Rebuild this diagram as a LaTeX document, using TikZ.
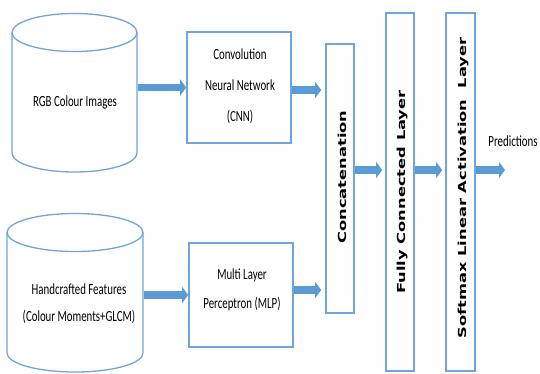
\documentclass[tikz,border=0pt]{standalone}
\usepackage{fontspec}
\setmainfont{Carlito}
\newfontfamily\vfont{DejaVu Sans}
\usetikzlibrary{arrows.meta}
\definecolor{ublue}{HTML}{5B9BD5}
\definecolor{lblue}{HTML}{6FA5DB}
\newcommand\sqz[2][31]{\scalebox{0.7}[1]{\fontsize{15.5}{#1}\selectfont\begin{tabular}{@{}c@{}}#2\end{tabular}}}
\newcommand\vsqz[1]{\scalebox{1}[0.68]{\vfont\bfseries\fontsize{16.3}{18}\selectfont #1}}
\newcommand\mycyl[5]{%
  \draw[cylline] (#1-#4,-#2) -- (#1-#4,-#3) arc[start angle=180,end angle=360,x radius=#4,y radius=#5] -- (#1+#4,-#2);
  \draw[cylline] (#1,-#2) ellipse[x radius=#4,y radius=#5];}
\tikzset{
  box/.style={draw=lblue, line width=1.6pt, inner sep=0pt, fill=white},
  cylline/.style={draw=lblue, line width=1.3pt},
  lbl/.style={inner sep=0pt, text=black},
  vlbl/.style={inner sep=0pt, text=black, rotate=90},
  bigarrow/.style={draw=ublue, line width=7.5pt, -{Triangle[length=6pt 0 0, width=16pt 0 0]}},
}
\begin{document}
\begin{tikzpicture}[x=1pt,y=1pt]
\useasboundingbox (0,0) rectangle (540,-373);
% cylinders
\mycyl{74.5}{32.5}{153}{62.5}{19}
\mycyl{75}{232.5}{353}{68}{19}
\node[lbl] (rgb) at (75,-100) {\sqz{RGB Colour Images}};
\node[lbl] (hc) at (79,-303) {\sqz[27]{Handcrafted Features\\(Colour Moments+GLCM)}};
\coordinate (rgbR) at (137.5,-87.5);
\coordinate (hcR) at (143.5,-295);
% boxes
\node[box, minimum width=104pt, minimum height=111pt] (cnn) at (239,-87.5) {};
\node[lbl] (cnntxt) at (240,-84) {\sqz{Convolution\\Neural Network\\(CNN)}};
\node[box, minimum width=104pt, minimum height=104pt] (mlp) at (241,-295) {};
\node[lbl] (mlptxt) at (242,-288) {\sqz[29]{Multi Layer\\Perceptron (MLP)}};
\node[box, minimum width=28pt, minimum height=269pt] (concat) at (340,-178.5) {};
\node[vlbl] (concattxt) at (342,-177) {\vsqz{Concatenation}};
\node[box, minimum width=28pt, minimum height=358pt] (fc) at (400,-192) {};
\node[vlbl] (fctxt) at (402,-192) {\vsqz{Fully Connected Layer}};
\node[box, minimum width=29pt, minimum height=358pt] (soft) at (460.5,-192) {};
\node[vlbl] (softtxt) at (463,-188) {\vsqz{Softmax Linear Activation\ \ Layer}};
\node[lbl] (pred) at (513,-140) {\sqz{Predictions}};
% arrows
\coordinate (c1) at ([yshift=-2.5pt]cnn.east);
\coordinate (c2) at ([yshift=5pt]mlp.east);
\coordinate (ay) at (0,-170);
\coordinate (out) at (505,-170);
\draw[bigarrow] (rgbR) -- (cnn.west);
\draw[bigarrow] (hcR) -- (mlp.west);
\draw[bigarrow, shorten >=4pt] (c1) -- (c1 -| concat.west);
\draw[bigarrow, shorten >=4pt] (c2) -- (c2 -| concat.west);
\draw[bigarrow, shorten >=3pt] (concat.east |- ay) -- (fc.west |- ay);
\draw[bigarrow, shorten >=3pt] (fc.east |- ay) -- (soft.west |- ay);
\draw[bigarrow] (soft.east |- ay) -- (out);
\end{tikzpicture}
\end{document}
